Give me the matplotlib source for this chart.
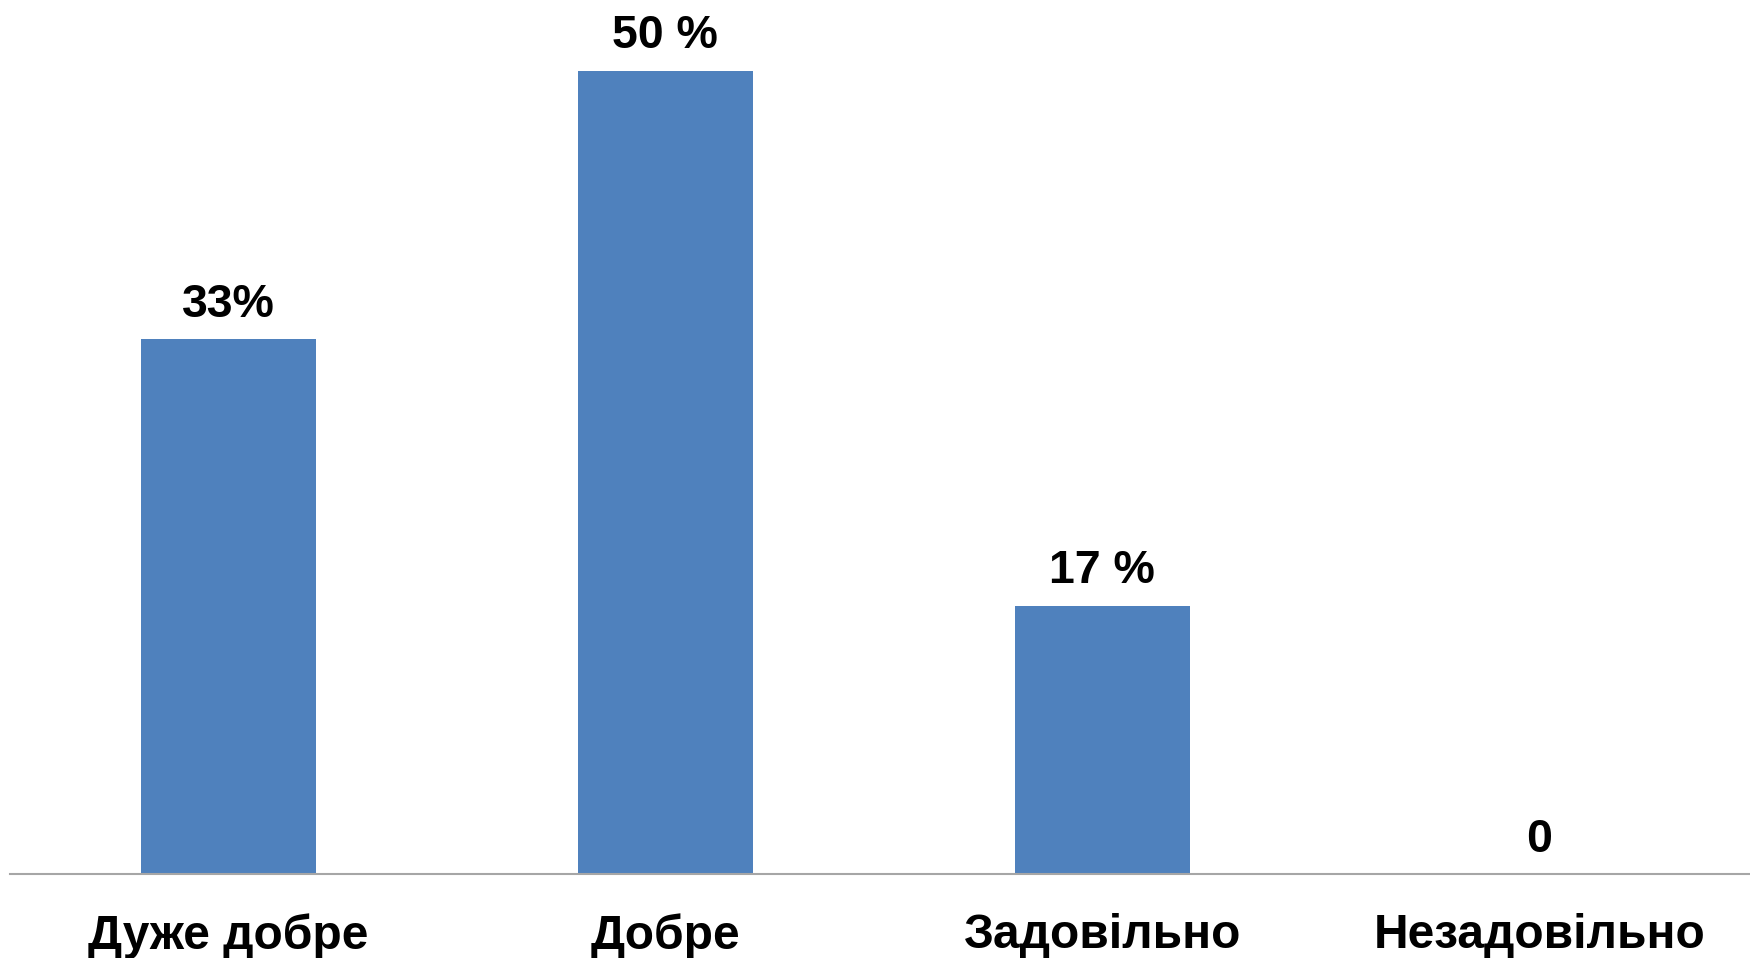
import matplotlib
matplotlib.use("Agg")
import matplotlib.pyplot as plt

categories = ["Дуже добре", "Добре", "Задовільно", "Незадовільно"]
values = [33.3, 50.0, 16.7, 0.0]
value_labels = ["33%", "50 %", "17 %", "0"]

plt.rcParams['font.family'] = ['Liberation Sans', 'DejaVu Sans']

fig = plt.figure(figsize=(17.5, 9.58), dpi=100)
ax = fig.add_axes([0.0055, 0.0877, 0.999, 0.9123])

x = range(len(categories))
bars = ax.bar(x, values, width=0.40, color='#4F81BD', zorder=2)

ax.set_xlim(-0.5, len(categories) - 0.5)
ax.set_ylim(0, 54.4)

for xi, v, lab in zip(x, values, value_labels):
    ax.annotate(lab, xy=(xi, v), xytext=(0, 16), textcoords='offset points',
                ha='center', va='baseline', fontsize=33.5, fontweight='bold',
                color='black')

ax.set_xticks(list(x))
ax.set_xticklabels(categories, fontsize=34.5, fontweight='bold')
ax.tick_params(axis='x', length=0, pad=28)
ax.set_yticks([])

for s in ['top', 'right', 'left']:
    ax.spines[s].set_visible(False)
ax.spines['bottom'].set_color('#A6A6A6')
ax.spines['bottom'].set_linewidth(1.5)

fig.savefig('out.png', dpi=100, facecolor='white')
